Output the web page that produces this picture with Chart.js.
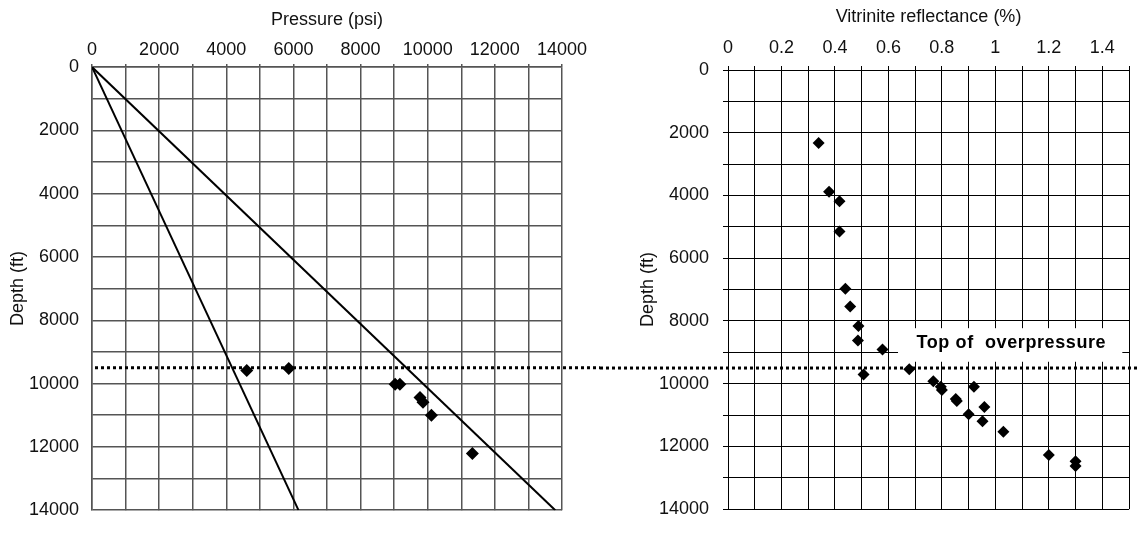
<!DOCTYPE html>
<html lang="en">
<head>
<meta charset="utf-8">
<title>Pressure and vitrinite reflectance vs depth</title>
<script src="https://cdn.jsdelivr.net/npm/chart.js@4.4.0/dist/chart.umd.min.js"></script>
<style>
  body { margin: 0; background: #fff; }
  #wrap { position: relative; width: 1139px; height: 534px; }
  .box { position: absolute; top: 0; height: 534px; }
  #left-box { left: 0; width: 600px; }
  #right-box { left: 600px; width: 539px; }
</style>
</head>
<body>
<div id="wrap">
  <div class="box" id="left-box"><canvas id="pressure-chart" width="600" height="534"></canvas></div>
  <div class="box" id="right-box"><canvas id="vitrinite-chart" width="539" height="534"></canvas></div>
</div>
<script>
// measured pressures (psi) and their depths (ft)
const pressureValues = [4610, 5860, 9030, 9170, 9770, 9860, 10110, 11330];
const pressureDepths = [9590, 9520, 10020, 10020, 10440, 10590, 11000, 12210];

// gradient lines from surface, [psi, ft] at the bottom
const hydrostaticEnd = [6150, 14000];
const lithostaticEnd = [13800, 14000];

// vitrinite reflectance (%) and depth (ft)
const roValues = [0.339, 0.378, 0.417, 0.417, 0.439, 0.457, 0.488, 0.486, 0.578, 0.507, 0.678, 0.768,
                  0.796, 0.800, 0.852, 0.856, 0.920, 0.959, 0.900, 0.952, 1.030, 1.200, 1.300, 1.300];
const roDepths = [2330, 3880, 4180, 5150, 6970, 7540, 8160, 8620, 8910, 9710, 9540, 9920,
                  10100, 10200, 10490, 10550, 10100, 10740, 10970, 11200, 11530, 12270, 12470, 12620];

const overpressureTop = 9500;
const overpressureLabel = "Top of  overpressure";
// label box in data units of the right plot: [x1, y1, x2, y2], text centre [x, y]
const noteBox = [0.636, 8230, 1.475, 9300];
const notePos = [1.06, 8700];

const fontFamily = '"Liberation Sans", Arial, sans-serif';
const tickFont = { family: fontFamily, size: 18 };

const dottedLine = {
  id: 'dottedLine',
  beforeDatasetsDraw(chart, args, opts) {
    const ctx = chart.ctx;
    const y = chart.scales.y.getPixelForValue(overpressureTop);
    const x0 = opts.fromPlot ? chart.chartArea.left + 3 : 0;
    ctx.save();
    ctx.strokeStyle = '#000';
    ctx.lineWidth = 3;
    ctx.setLineDash([3, 3]);
    ctx.beginPath();
    ctx.moveTo(x0, y);
    ctx.lineTo(chart.width, y);
    ctx.stroke();
    ctx.restore();
  }
};

const overpressureNote = {
  id: 'overpressureNote',
  beforeDatasetsDraw(chart) {
    const {ctx, scales: {x, y}} = chart;
    const l = x.getPixelForValue(noteBox[0]), r = x.getPixelForValue(noteBox[2]);
    const t = y.getPixelForValue(noteBox[1]), b = y.getPixelForValue(noteBox[3]);
    ctx.save();
    ctx.fillStyle = '#fff';
    ctx.fillRect(l, t, r - l, b - t);
    ctx.font = 'bold 18px ' + fontFamily;
    ctx.letterSpacing = '0.6px';
    ctx.fillStyle = '#000';
    ctx.textAlign = 'center';
    ctx.textBaseline = 'middle';
    ctx.fillText(overpressureLabel, x.getPixelForValue(notePos[0]), y.getPixelForValue(notePos[1]));
    ctx.restore();
  }
};

function diamonds(xs, ys, radius) {
  return {
    data: xs.map((v, i) => ({ x: v, y: ys[i] })),
    pointStyle: 'rectRot',
    pointRadius: radius,
    backgroundColor: '#000',
    borderColor: '#000',
    borderWidth: 0
  };
}

function gradientLine(end) {
  return {
    data: [{ x: 0, y: 0 }, { x: end[0], y: end[1] }],
    showLine: true,
    pointRadius: 0,
    borderColor: '#000',
    borderWidth: 2
  };
}

// left: pressure vs depth
new Chart(document.getElementById('pressure-chart'), {
  type: 'scatter',
  data: {
    datasets: [
      diamonds(pressureValues, pressureDepths, 6.5),
      gradientLine(hydrostaticEnd),
      gradientLine(lithostaticEnd)
    ]
  },
  options: {
    responsive: false,
    animation: false,
    layout: { padding: { left: 0, top: 0, right: 38, bottom: 14 } },
    plugins: { legend: { display: false }, tooltip: { enabled: false }, dottedLine: { fromPlot: true } },
    scales: {
      x: {
        type: 'linear', position: 'top', min: 0, max: 14000,
        afterFit: s => { s.height = 67; },
        ticks: {
          stepSize: 1000, autoSkip: false, maxRotation: 0, padding: 3, color: '#111', font: tickFont,
          callback: v => v % 2000 === 0 ? String(v) : ''
        },
        grid: { color: '#555', lineWidth: 1.5, tickLength: 3 },
        border: { color: '#555', width: 1.5 },
        title: { display: true, text: 'Pressure (psi)', color: '#111', font: tickFont, padding: { top: 9, bottom: 0 } }
      },
      y: {
        type: 'linear', reverse: true, min: 0, max: 14000,
        afterFit: s => { s.width = 92; },
        ticks: {
          stepSize: 1000, autoSkip: false, padding: 13, color: '#111', font: tickFont,
          callback: v => v % 2000 === 0 ? String(v) : ''
        },
        grid: { color: '#555', lineWidth: 1.5, drawTicks: false },
        border: { color: '#555', width: 1.5 },
        title: { display: true, text: 'Depth (ft)', color: '#111', font: tickFont, padding: { top: 7, bottom: 0 } }
      }
    }
  },
  plugins: [dottedLine]
});

// right: vitrinite reflectance vs depth
new Chart(document.getElementById('vitrinite-chart'), {
  type: 'scatter',
  data: { datasets: [diamonds(roValues, roDepths, 6)] },
  options: {
    responsive: false,
    animation: false,
    layout: { padding: { left: 0, top: 0, right: 10, bottom: 16 } },
    plugins: { legend: { display: false }, tooltip: { enabled: false }, dottedLine: { fromPlot: false } },
    scales: {
      x: {
        type: 'linear', position: 'top', min: 0, max: 1.5,
        afterFit: s => { s.height = 70; },
        ticks: {
          stepSize: 0.1, autoSkip: false, maxRotation: 0, padding: 7, color: '#111', font: tickFont,
          callback: v => Math.round(v * 10) % 2 === 0 ? String(Math.round(v * 10) / 10) : ''
        },
        grid: { color: '#000', lineWidth: 1, tickLength: 4 },
        border: { color: '#000', width: 1 },
        title: { display: true, text: 'Vitrinite reflectance (%)', color: '#111', font: tickFont, padding: { top: 6, bottom: 0 } }
      },
      y: {
        type: 'linear', reverse: true, min: 0, max: 14000,
        afterFit: s => { s.width = 128; },
        ticks: {
          stepSize: 1000, autoSkip: false, padding: 14, color: '#111', font: tickFont,
          callback: v => v % 2000 === 0 ? String(v) : ''
        },
        grid: { color: '#000', lineWidth: 1, tickLength: 5 },
        border: { color: '#000', width: 1 },
        title: { display: true, text: 'Depth (ft)', color: '#111', font: tickFont, padding: { top: 37, bottom: 0 } }
      }
    }
  },
  plugins: [overpressureNote, dottedLine]
});
</script>
</body>
</html>
